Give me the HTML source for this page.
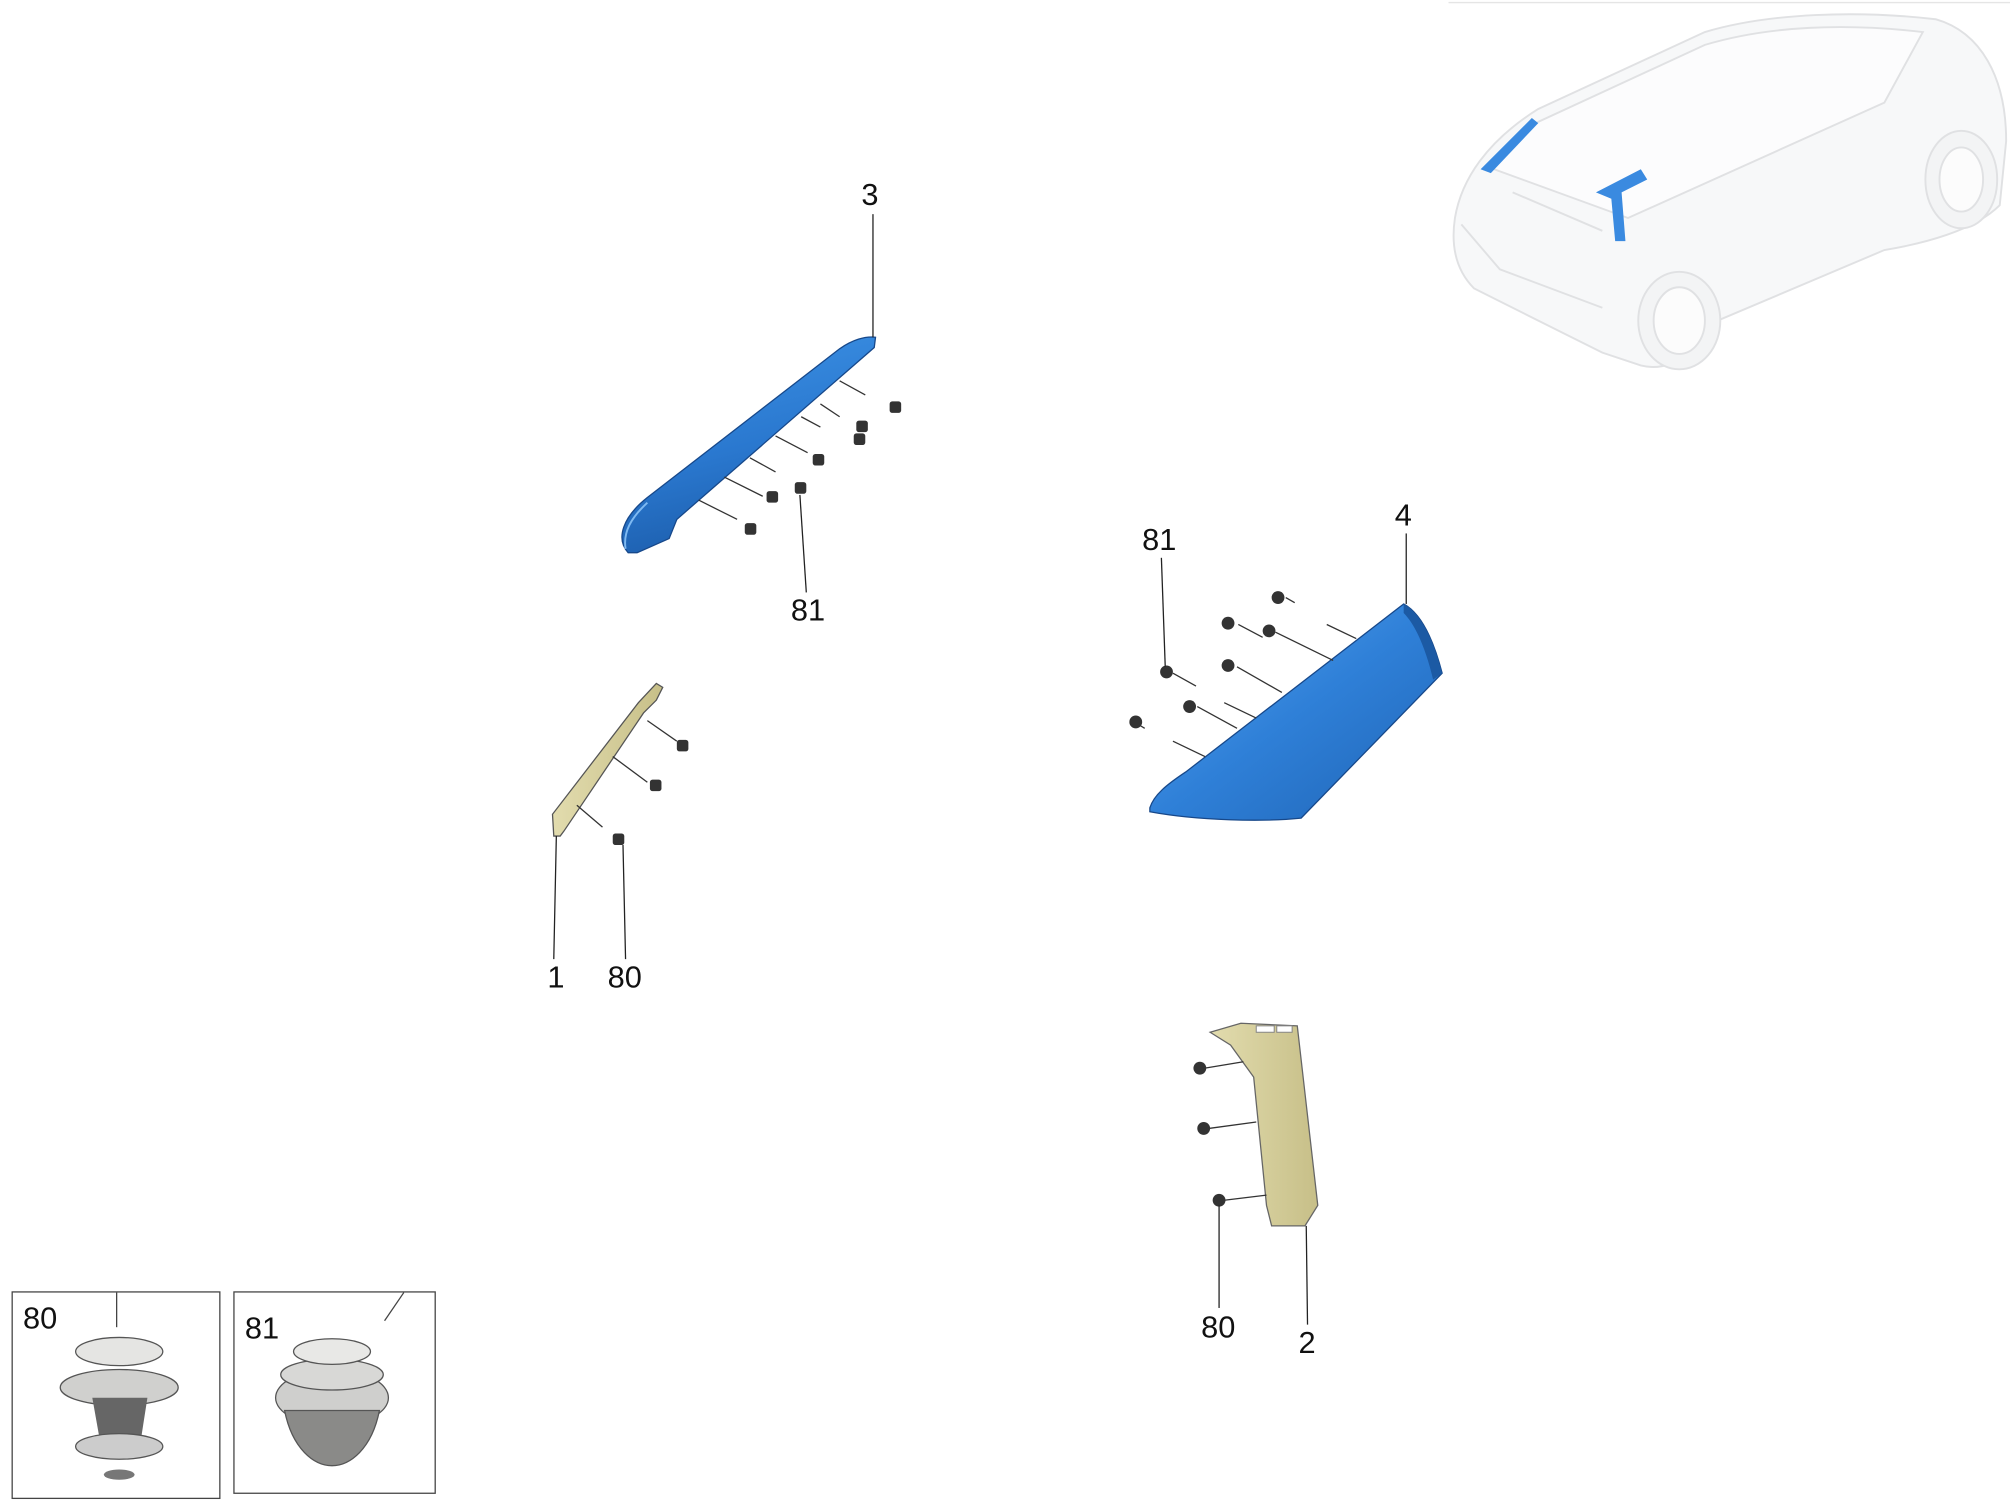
<!DOCTYPE html>
<html><head><meta charset="utf-8"><style>
html,body{margin:0;padding:0;background:#fff;}
svg{display:block;}
text{font-family:"Liberation Sans",sans-serif;font-size:24px;fill:#111;}
</style></head><body>
<svg width="2010" height="1508" viewBox="0 0 1568 1176" preserveAspectRatio="none" xmlns="http://www.w3.org/2000/svg">
<defs>
<linearGradient id="bl" x1="0" y1="0" x2="0.3" y2="1">
<stop offset="0" stop-color="#3f95e8"/><stop offset="0.6" stop-color="#2a78cf"/><stop offset="1" stop-color="#1d5fae"/>
</linearGradient>
<linearGradient id="bl2" x1="0" y1="0" x2="1" y2="1">
<stop offset="0" stop-color="#5aa7ee"/><stop offset="0.5" stop-color="#2f80d8"/><stop offset="1" stop-color="#1f64b5"/>
</linearGradient>
<linearGradient id="tan" x1="0" y1="0" x2="1" y2="0">
<stop offset="0" stop-color="#e2dcae"/><stop offset="1" stop-color="#c7bf88"/>
</linearGradient>
</defs>

<!-- Car top right -->
<g stroke="#e0e1e3" stroke-width="1.5" fill="#f7f8f9">
<path d="M1135,170 C1140,140 1160,110 1200,85 L1330,25 C1380,10 1450,8 1510,15 C1545,25 1565,60 1565,110 L1560,160 C1540,180 1500,190 1470,195 L1340,250 C1320,280 1300,290 1280,285 L1250,275 C1230,265 1180,240 1150,225 C1135,210 1132,190 1135,170 Z"/>
<path d="M1160,130 L1200,95 L1330,35 C1380,20 1440,18 1500,25 L1470,80 L1270,170 Z" fill="#fcfcfd"/>
<ellipse cx="1310" cy="250" rx="32" ry="38" fill="#f3f4f5"/>
<ellipse cx="1310" cy="250" rx="20" ry="26" fill="#fcfcfc"/>
<ellipse cx="1530" cy="140" rx="28" ry="38" fill="#f3f4f5"/>
<ellipse cx="1530" cy="140" rx="17" ry="25" fill="#fcfcfc"/>
<path d="M1140,175 L1170,210 L1250,240" fill="none"/>
<path d="M1180,150 L1250,180" fill="none"/>
</g>
<path d="M1155,132 L1195,92 L1200,96 L1163,135 Z" fill="#3a8ae0"/>
<path d="M1245,150 L1280,132 L1285,140 L1265,150 L1268,188 L1260,188 L1257,155 Z" fill="#3a8ae0"/>
<line x1="1130" y1="2" x2="1568" y2="2" stroke="#e5e5e5"/>

<!-- Part 3 -->
<path d="M490,431 C480,420 486,403 505,388 L655,272 C665,265 675,262 683,263 L682,271 L528,405 L522,420 L497,431 Z" fill="url(#bl)" stroke="#17488a" stroke-width="1"/>
<path d="M488,428 C486,415 492,404 505,392" fill="none" stroke="#7fbaf2" stroke-width="1.5"/>
<g stroke="#333" stroke-width="1">
<line x1="655" y1="297" x2="675" y2="308"/>
<line x1="640" y1="315" x2="655" y2="325"/>
<line x1="625" y1="325" x2="640" y2="333"/>
<line x1="605" y1="340" x2="630" y2="353"/>
<line x1="585" y1="357" x2="605" y2="368"/>
<line x1="565" y1="372" x2="595" y2="387"/>
<line x1="545" y1="390" x2="575" y2="405"/>
</g>
<g fill="#333">
<rect x="694" y="313" width="9" height="9" rx="2"/>
<rect x="668" y="328" width="9" height="9" rx="2"/>
<rect x="666" y="338" width="9" height="9" rx="2"/>
<rect x="634" y="354" width="9" height="9" rx="2"/>
<rect x="598" y="383" width="9" height="9" rx="2"/>
<rect x="620" y="376" width="9" height="9" rx="2"/>
<rect x="581" y="408" width="9" height="9" rx="2"/>
</g>
<text x="672" y="160">3</text>
<line x1="681" y1="167" x2="681" y2="263" stroke="#222"/>
<text x="617" y="484">81</text>
<line x1="624" y1="386" x2="629" y2="462" stroke="#222"/>

<!-- Part 4 -->
<path d="M897,630 C900,620 910,612 925,602 L1095,471 C1108,478 1118,498 1125,525 L1015,638 C985,641 935,640 897,633 Z" fill="url(#bl2)" stroke="#17488a" stroke-width="1"/>
<path d="M1095,471 C1108,478 1118,498 1125,525 L1118,530 C1112,505 1104,487 1095,478 Z" fill="#1c5aa4"/>
<g stroke="#333" stroke-width="1">
<line x1="1035" y1="487" x2="1058" y2="498"/>
<line x1="966" y1="487" x2="985" y2="497"/>
<line x1="995" y1="493" x2="1040" y2="515"/>
<line x1="1003" y1="466" x2="1010" y2="470"/>
<line x1="965" y1="520" x2="1000" y2="540"/>
<line x1="915" y1="525" x2="933" y2="535"/>
<line x1="934" y1="551" x2="965" y2="568"/>
<line x1="955" y1="548" x2="980" y2="560"/>
<line x1="888" y1="565" x2="893" y2="568"/>
<line x1="915" y1="578" x2="940" y2="590"/>
</g>
<g fill="#333">
<circle cx="997" cy="466" r="5"/><circle cx="958" cy="486" r="5"/><circle cx="990" cy="492" r="5"/>
<circle cx="958" cy="519" r="5"/><circle cx="910" cy="524" r="5"/><circle cx="928" cy="551" r="5"/>
<circle cx="886" cy="563" r="5"/>
</g>
<text x="1088" y="410">4</text>
<line x1="1097" y1="416" x2="1097" y2="471" stroke="#222"/>
<text x="891" y="429">81</text>
<line x1="906" y1="435" x2="909" y2="520" stroke="#222"/>

<!-- Part 1 -->
<path d="M432,652 L431,635 L498,548 L512,533 L517,536 L512,546 L502,556 L440,648 L437,652 Z" fill="url(#tan)" stroke="#555" stroke-width="1"/>
<g stroke="#333" stroke-width="1">
<line x1="505" y1="562" x2="528" y2="578"/>
<line x1="478" y1="590" x2="505" y2="610"/>
<line x1="450" y1="628" x2="470" y2="645"/>
</g>
<g fill="#333">
<rect x="528" y="577" width="9" height="9" rx="2"/>
<rect x="507" y="608" width="9" height="9" rx="2"/>
<rect x="478" y="650" width="9" height="9" rx="2"/>
</g>
<text x="427" y="770">1</text>
<line x1="434" y1="652" x2="432" y2="748" stroke="#222"/>
<text x="474" y="770">80</text>
<line x1="486" y1="659" x2="488" y2="748" stroke="#222"/>

<!-- Part 2 -->
<path d="M944,805 L968,798 L1012,800 L1028,940 L1018,956 L992,956 L988,940 L978,840 L960,815 Z" fill="url(#tan)" stroke="#666" stroke-width="1"/>
<rect x="980" y="800" width="14" height="5" fill="#fff" stroke="#888" stroke-width="0.8"/>
<rect x="996" y="800" width="12" height="5" fill="#fff" stroke="#888" stroke-width="0.8"/>
<g stroke="#333" stroke-width="1">
<line x1="940" y1="833" x2="970" y2="828"/>
<line x1="943" y1="880" x2="980" y2="875"/>
<line x1="955" y1="936" x2="988" y2="932"/>
</g>
<g fill="#333">
<circle cx="936" cy="833" r="5"/><circle cx="939" cy="880" r="5"/><circle cx="951" cy="936" r="5"/>
</g>
<text x="937" y="1043">80</text>
<line x1="951" y1="940" x2="951" y2="1020" stroke="#222"/>
<text x="1013" y="1055">2</text>
<line x1="1019" y1="956" x2="1020" y2="1033" stroke="#222"/>

<!-- Detail boxes -->
<rect x="9.5" y="1007.5" width="162" height="161" fill="#fff" stroke="#444"/>
<text x="18" y="1036">80</text>
<line x1="91" y1="1008" x2="91" y2="1035" stroke="#444"/>
<ellipse cx="93" cy="1082" rx="46" ry="14" fill="#d0d0ce" stroke="#555"/>
<ellipse cx="93" cy="1054" rx="34" ry="11" fill="#e5e5e3" stroke="#555"/>
<path d="M72,1090 L115,1090 L108,1135 L80,1135 Z" fill="#666"/>
<ellipse cx="93" cy="1128" rx="34" ry="10" fill="#ccc" stroke="#555"/>
<ellipse cx="93" cy="1150" rx="12" ry="4" fill="#777"/>

<rect x="182.5" y="1007.5" width="157" height="157" fill="#fff" stroke="#444"/>
<text x="191" y="1044">81</text>
<line x1="315" y1="1008" x2="300" y2="1030" stroke="#444"/>
<ellipse cx="259" cy="1090" rx="44" ry="22" fill="#cfcfcd" stroke="#555"/>
<path d="M222,1100 C228,1130 245,1143 259,1143 C273,1143 290,1130 296,1100 Z" fill="#8a8a88" stroke="#555"/>
<ellipse cx="259" cy="1072" rx="40" ry="12" fill="#d8d8d6" stroke="#555"/>
<ellipse cx="259" cy="1054" rx="30" ry="10" fill="#e8e8e6" stroke="#555"/>
</svg>
</body></html>
